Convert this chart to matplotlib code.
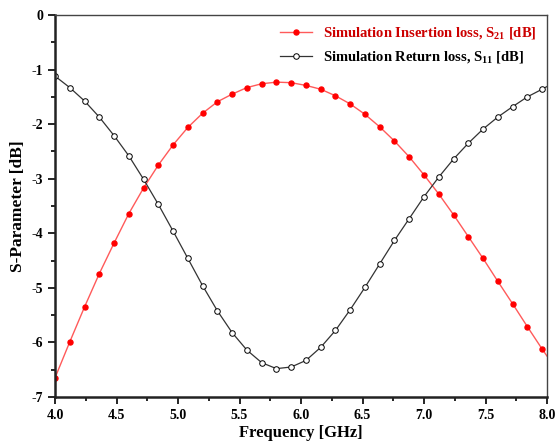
import numpy as np
import matplotlib
matplotlib.use('Agg')
import matplotlib.pyplot as plt
from matplotlib.ticker import MultipleLocator

# frequency points (GHz); last point only closes the curve at the axis edge
freq = [4.00, 4.12, 4.24, 4.36, 4.48, 4.60, 4.72, 4.84, 4.96, 5.08, 5.20, 5.32,
        5.44, 5.56, 5.68, 5.80, 5.92, 6.04, 6.16, 6.28, 6.40, 6.52, 6.64, 6.76,
        6.88, 7.00, 7.12, 7.24, 7.36, 7.48, 7.60, 7.72, 7.84, 7.96, 8.00]

s21 = [-6.65, -5.99, -5.35, -4.74, -4.18, -3.64, -3.17, -2.75, -2.38, -2.06,
       -1.80, -1.59, -1.45, -1.33, -1.26, -1.23, -1.24, -1.29, -1.36, -1.48,
       -1.63, -1.82, -2.05, -2.31, -2.60, -2.93, -3.28, -3.66, -4.06, -4.46,
       -4.88, -5.29, -5.71, -6.12, -6.25]

s11 = [-1.12, -1.33, -1.575, -1.87, -2.21, -2.58, -3.01, -3.47, -3.96, -4.46,
       -4.96, -5.42, -5.82, -6.14, -6.37, -6.48, -6.45, -6.33, -6.09, -5.78,
       -5.40, -4.99, -4.56, -4.13, -3.73, -3.33, -2.97, -2.64, -2.35, -2.09,
       -1.87, -1.68, -1.50, -1.36, -1.31]

plt.rcParams['font.family'] = ['Liberation Serif', 'DejaVu Serif']
plt.rcParams['font.weight'] = 'bold'
plt.rcParams['mathtext.fontset'] = 'custom'
plt.rcParams['mathtext.rm'] = 'Liberation Serif:bold'
plt.rcParams['mathtext.it'] = 'Liberation Serif:bold'

fig = plt.figure(figsize=(5.55, 4.48), dpi=100)
ax = fig.add_axes([0.0991, 0.1138, 0.8865, 0.8527])

marks = slice(0, 34)
ax.plot(freq, s21, '-', color='#ff5a5a', lw=1.0, marker='o', ms=3.6,
        mfc='red', mec='red', markevery=marks,
        label=r'Simulation Insertion loss, S$_{21}$ [dB]')
ax.plot(freq, s11, '-', color='#333333', lw=0.9, marker='o', ms=4,
        mfc='white', mec='black', mew=0.7, markevery=marks,
        label=r'Simulation Return loss, S$_{11}$ [dB]')

ax.set_xlim(4.0, 8.0)
ax.set_ylim(-7, 0)
ax.xaxis.set_major_locator(MultipleLocator(0.5))
ax.xaxis.set_minor_locator(MultipleLocator(0.25))
ax.yaxis.set_major_locator(MultipleLocator(1))
ax.yaxis.set_minor_locator(MultipleLocator(0.5))
ax.xaxis.set_major_formatter(plt.FormatStrFormatter('%.1f'))
ax.yaxis.set_major_formatter(plt.FormatStrFormatter('%d'))

ax.tick_params(which='both', direction='out', top=False, right=False,
               labelsize=10, width=1.2)
ax.tick_params(which='major', length=5)
ax.tick_params(which='minor', length=3)

for side in ['left', 'bottom']:
    ax.spines[side].set_linewidth(1.8)
    ax.spines[side].set_color('#222222')
for side in ['top', 'right']:
    ax.spines[side].set_linewidth(1.0)
    ax.spines[side].set_color('#444444')

ax.set_xlabel('Frequency [GHz]', fontsize=12, fontweight='bold', labelpad=2)
ax.set_ylabel('S-Parameter [dB]', fontsize=12.5, fontweight='bold', labelpad=4)

leg = ax.legend(loc='upper right', frameon=False, fontsize=10.5,
                handlelength=2.2, borderaxespad=0.3, labelspacing=0.55)
for txt, col in zip(leg.get_texts(), ['#cc0000', 'black']):
    txt.set_color(col)

fig.savefig('out.png', dpi=100)
